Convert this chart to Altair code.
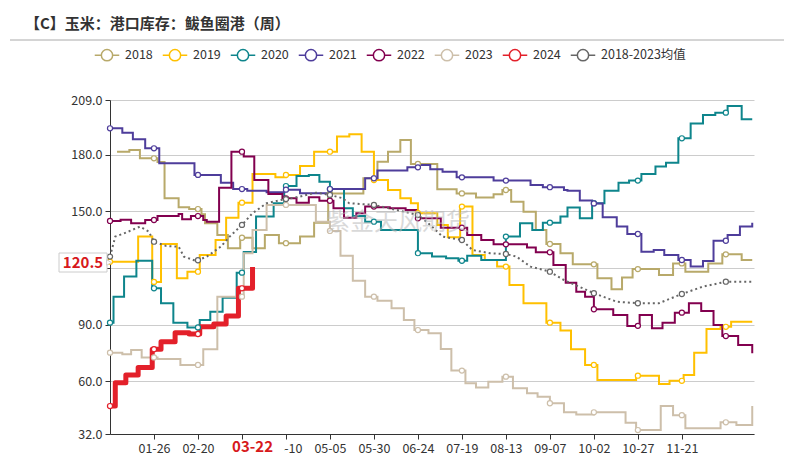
import altair as alt
import numpy as np
import pandas as pd

FONT = "Noto Sans CJK SC"
TITLE = "【C】玉米：港口库存：鲅鱼圈港（周）"
WATERMARK = "紫金天风期货"

YEARS = ["2018", "2019", "2020", "2021", "2022", "2023", "2024"]
AVG_NAME = "2018-2023均值"
SERIES = YEARS + [AVG_NAME]
COLORS = ["#B8A96A", "#FFC000", "#0E858C", "#4E3D9B", "#82004F", "#CDBFAA", "#E3202A", "#666666"]

# day index within the year (0 = 01-01), value at which each weekly step starts
DAY_2018 = [4, 11, 17, 27, 31, 39, 45, 52, 54, 61, 67, 74, 81, 88, 96, 108, 116, 124, 144, 152,
            158, 165, 171, 186, 197, 208, 218, 223, 228, 235, 242, 248, 256, 263, 277, 285, 291, 297, 312, 320,
            327, 340, 348, 359, 365]
VAL_2018 = [181.6, 182.5, 178.1, 176.2, 156.9, 152.1, 151.2, 148.4, 143.7, 137.5, 130.4, 136.0, 130.4, 137.5,
            133.1, 136.6, 144.0, 159.5, 167.5, 176.3, 181.6, 187.8, 175.1, 161.7, 159.5, 157.3, 159.0, 161.3,
            155.1, 149.8, 140.1, 132.7, 127.8, 121.9, 114.5, 108.7, 115.0, 119.4, 116.3, 122.4, 118.0, 122.4,
            127.2, 124.2, 124.2]

DAY_2019 = [0, 16, 24, 29, 38, 44, 51, 60, 66, 73, 81, 94, 100, 108, 116, 129, 136, 143, 150, 158,
            165, 171, 175, 186, 192, 199, 206, 213, 220, 227, 235, 248, 256, 262, 270, 277, 299, 312, 318, 326,
            332, 339, 347, 353, 365]
VAL_2019 = [123.3, 136.6, 112.6, 132.7, 114.5, 118.0, 126.9, 134.8, 146.6, 154.6, 169.8, 168.0, 169.3, 174.0,
            181.6, 189.6, 190.8, 181.6, 166.6, 161.3, 156.9, 154.3, 149.0, 142.8, 136.2, 152.5, 126.9, 124.2,
            120.7, 111.0, 101.3, 91.0, 86.8, 76.9, 68.6, 60.6, 62.9, 58.5, 60.2, 63.3, 75.1, 87.6, 88.8, 91.5, 91.5]

DAY_2020 = [0, 2, 8, 15, 24, 29, 36, 44, 51, 57, 64, 72, 76, 83, 93, 99, 106, 113, 119, 125,
            133, 138, 145, 154, 175, 183, 191, 198, 203, 211, 225, 233, 240, 246, 256, 260, 267, 274, 281, 289,
            295, 302, 310, 316, 323, 330, 337, 344, 351, 359, 365]
VAL_2020 = [91.0, 104.8, 115.4, 123.8, 109.2, 101.3, 91.0, 88.5, 92.4, 96.8, 104.2, 117.5, 128.5, 147.2,
            154.3, 163.4, 168.7, 169.3, 165.7, 161.8, 151.6, 147.5, 144.5, 140.1, 127.8, 126.0, 125.1, 123.8,
            126.5, 124.2, 136.6, 143.7, 140.1, 144.0, 147.2, 152.0, 146.3, 154.3, 160.9, 165.2, 166.3, 169.8,
            173.7, 175.8, 188.7, 196.6, 201.1, 202.3, 205.8, 198.8, 198.8]

DAY_2021 = [0, 7, 13, 20, 28, 48, 63, 70, 78, 89, 99, 108, 125, 145, 152, 169, 176, 182, 189, 197,
            218, 239, 246, 258, 260, 267, 274, 280, 288, 294, 302, 309, 315, 323, 330, 337, 343, 351, 358, 365]
VAL_2021 = [194.0, 191.7, 188.2, 183.4, 175.5, 169.3, 165.2, 161.8, 160.9, 160.1, 161.5, 159.6, 161.8, 167.5,
            171.6, 173.3, 174.5, 172.3, 171.0, 168.0, 166.3, 164.0, 162.8, 161.3, 160.9, 155.8, 154.2, 146.8,
            141.9, 138.0, 128.6, 129.5, 126.9, 124.2, 120.7, 123.7, 134.4, 137.5, 141.9, 144.0]

DAY_2022 = [0, 6, 12, 20, 27, 39, 41, 46, 53, 55, 62, 69, 76, 82, 90, 98, 106, 113, 119, 127,
            133, 140, 145, 152, 159, 168, 174, 188, 203, 211, 218, 237, 242, 252, 259, 265, 270, 275, 286, 294,
            301, 308, 314, 321, 329, 336, 343, 348, 357, 365]
VAL_2022 = [144.9, 145.5, 143.7, 145.4, 147.5, 148.6, 145.8, 147.5, 145.4, 144.5, 162.5, 181.6, 179.0, 166.6,
            159.2, 156.9, 154.6, 157.4, 155.6, 151.6, 146.6, 149.0, 152.5, 152.2, 151.6, 150.7, 146.3, 141.3,
            137.5, 134.8, 132.5, 130.9, 128.3, 121.6, 112.2, 107.4, 104.8, 98.1, 95.1, 89.3, 95.1, 88.0, 91.0,
            96.3, 101.3, 97.2, 89.8, 83.9, 79.2, 74.8]

DAY_2023 = [0, 7, 12, 18, 27, 40, 53, 61, 76, 81, 89, 117, 125, 131, 138, 145, 152, 160, 167, 173,
            181, 188, 194, 202, 208, 215, 223, 229, 237, 243, 250, 258, 265, 275, 293, 299, 313, 320, 327, 347,
            356, 365]
VAL_2023 = [75.1, 74.3, 76.5, 72.6, 71.7, 68.6, 76.9, 104.8, 127.8, 140.1, 153.4, 144.5, 139.6, 126.5, 113.2,
            104.8, 102.6, 98.6, 92.4, 87.1, 85.4, 77.0, 65.6, 58.9, 56.6, 59.7, 62.4, 56.2, 53.6, 51.8, 48.3,
            43.5, 42.4, 43.5, 38.0, 34.1, 46.8, 42.0, 35.0, 38.2, 36.8, 46.8]

DAY_2024 = [0, 3, 9, 16, 24, 29, 37, 45, 51, 59, 66, 73, 81]
VAL_2024 = [46.8, 59.2, 63.3, 67.3, 76.9, 80.9, 85.7, 85.0, 88.8, 90.3, 94.5, 109.2, 120.5]

DAY_AVG = [0, 3, 9, 17, 22, 25, 32, 39, 42, 49, 55, 63, 68, 75, 81, 89, 97, 108, 117, 125,
           132, 136, 150, 163, 175, 182, 189, 200, 206, 216, 225, 231, 239, 250, 258, 275, 288, 300, 312, 325,
           337, 350, 365]
VAL_AVG = [126.0, 136.6, 138.7, 141.9, 139.3, 133.9, 131.6, 131.3, 126.0, 123.7, 126.0, 131.3, 136.6, 142.8,
           149.0, 154.3, 156.0, 157.8, 159.9, 158.7, 157.0, 154.3, 153.4, 150.7, 148.1, 142.8, 136.6, 134.8,
           129.5, 127.8, 127.4, 126.0, 120.7, 118.0, 113.6, 106.6, 102.1, 101.3, 101.3, 106.2, 110.1, 112.7, 112.7]

LAST_LABEL = "120.5"
LAST_DATE_LABEL = "03-22"
LAST_DAY = 81

Y_TICKS = [32, 60, 90, 120, 150, 180, 209]
X_TICKS = list(range(25, 326, 25))
MARK_DAYS = list(range(0, 366, 25))

STEP = {
    "2018": (DAY_2018, VAL_2018), "2019": (DAY_2019, VAL_2019), "2020": (DAY_2020, VAL_2020),
    "2021": (DAY_2021, VAL_2021), "2022": (DAY_2022, VAL_2022), "2023": (DAY_2023, VAL_2023),
    "2024": (DAY_2024, VAL_2024),
}

rows, marks = [], []
for name, (days, vals) in STEP.items():
    for d, v in zip(days, vals):
        rows.append({"series": name, "day": d, "value": v})
    for md in MARK_DAYS:
        if days[0] <= md <= days[-1]:
            idx = max(i for i, d in enumerate(days) if d <= md)
            marks.append({"series": name, "day": md, "value": vals[idx]})
for d, v in zip(DAY_AVG, VAL_AVG):
    rows.append({"series": AVG_NAME, "day": d, "value": v})
for md in MARK_DAYS:
    marks.append({"series": AVG_NAME, "day": md, "value": float(np.interp(md, DAY_AVG, VAL_AVG))})

df = pd.DataFrame(rows)
df_marks = pd.DataFrame(marks)
df_steps = df[df.series.isin(YEARS[:-1])]
df_avg = df[df.series == AVG_NAME]
df_cur = df[df.series == "2024"]

LEGEND_PATH = "M-1,0L-0.46,0M0.46,0L1,0M0.46,0A0.46,0.46,0,1,1,-0.46,0A0.46,0.46,0,1,1,0.46,0"

xscale = alt.Scale(domain=[0, 366], nice=False, zero=False)
yscale = alt.Scale(domain=[32, 209], nice=False, zero=False)
cscale = alt.Scale(domain=SERIES, range=COLORS)

xaxis = alt.Axis(values=X_TICKS, grid=False, title=None, tickSize=5, labelPadding=3,
                 labelOverlap=False, labelFlush=False,
                 labelExpr="datum.value == 75 ? '' : timeFormat(datetime(2024, 0, 1 + datum.value), '%m-%d')")
yaxis = alt.Axis(values=Y_TICKS, format=".1f", grid=True, title=None, tickSize=5, labelPadding=3,
                 labelExpr="datum.value == 120 ? '' : format(datum.value, '.1f')")

legend = alt.Legend(orient="none", legendX=-16, legendY=-58, direction="horizontal", title=None,
                    symbolType=LEGEND_PATH, symbolSize=600, symbolStrokeWidth=1.5,
                    labelFontSize=12.5, labelFont=FONT, labelColor="#333333", labelOffset=5,
                    columnPadding=6, padding=0)

X = alt.X("day:Q", scale=xscale, axis=xaxis)
Y = alt.Y("value:Q", scale=yscale, axis=yaxis)
C = alt.Color("series:N", scale=cscale, legend=legend)

steps = alt.Chart(df_steps).mark_line(interpolate="step-after", strokeWidth=2).encode(x=X, y=Y, color=C)
avg = alt.Chart(df_avg).mark_line(strokeWidth=2, strokeDash=[2, 3]).encode(x=X, y=Y, color=C)
cur = alt.Chart(df_cur).mark_line(interpolate="step-after", strokeWidth=5, strokeJoin="round").encode(
    x=X, y=Y, color=C)
pts = alt.Chart(df_marks).mark_point(shape="circle", filled=False, fill="white", fillOpacity=1,
                                     size=26, strokeWidth=1.2, opacity=1).encode(x=X, y=Y, color=C)

one = pd.DataFrame({"t": [""]})
title = alt.Chart(pd.DataFrame({"t": [TITLE]})).mark_text(
    align="left", baseline="middle", fontSize=15, fontWeight="bold", font=FONT, color="#333333"
).encode(x=alt.value(-85), y=alt.value(-76), text="t:N")
sep = alt.Chart(one).mark_rule(color="#aaaaaa", strokeWidth=1).encode(
    x=alt.value(-100), x2=alt.value(674), y=alt.value(-60))
wm = alt.Chart(pd.DataFrame({"t": [WATERMARK]})).mark_text(
    fontSize=24, font=FONT, color="#bbbbbb", opacity=0.55
).encode(x=alt.value(288), y=alt.value(123), text="t:N")

ybox = alt.Chart(one).mark_rect(fill="white", stroke="#cccccc", strokeWidth=1).encode(
    x=alt.value(-51), x2=alt.value(-3), y=alt.value(153), y2=alt.value(172))
yptr = alt.Chart(one).mark_point(shape="triangle-right", filled=True, fill="white", stroke="#cccccc",
                                 strokeWidth=1, size=30, opacity=1).encode(x=alt.value(-1), y=alt.value(162.5))
ytxt = alt.Chart(pd.DataFrame({"t": [LAST_LABEL]})).mark_text(
    fontSize=15, fontWeight="bold", font=FONT, color="#D7191C", baseline="middle"
).encode(x=alt.value(-27), y=alt.value(162.5), text="t:N")

xbox = alt.Chart(one).mark_rect(fill="white").encode(
    x=alt.value(112), x2=alt.value(174), y=alt.value(340), y2=alt.value(358))
xtxt = alt.Chart(pd.DataFrame({"t": [LAST_DATE_LABEL]})).mark_text(
    fontSize=15, fontWeight="bold", font=FONT, color="#D7191C", baseline="middle"
).encode(x=alt.datum(LAST_DAY), y=alt.value(346.5), text="t:N")

chart = alt.layer(steps, avg, cur, pts, wm, title, sep, ybox, yptr, ytxt, xbox, xtxt).properties(
    width=644, height=334,
    autosize=alt.AutoSizeParams(type="none"),
    padding={"left": 102, "top": 92, "right": 32, "bottom": 24},
).configure_view(stroke=None).configure_axis(
    labelFont=FONT, labelFontSize=12.5, labelColor="#333333",
    domainColor="#333333", tickColor="#333333", gridColor="#cccccc", gridWidth=1,
)

chart.save("out.html", embed_options={"renderer": "svg", "actions": False})
